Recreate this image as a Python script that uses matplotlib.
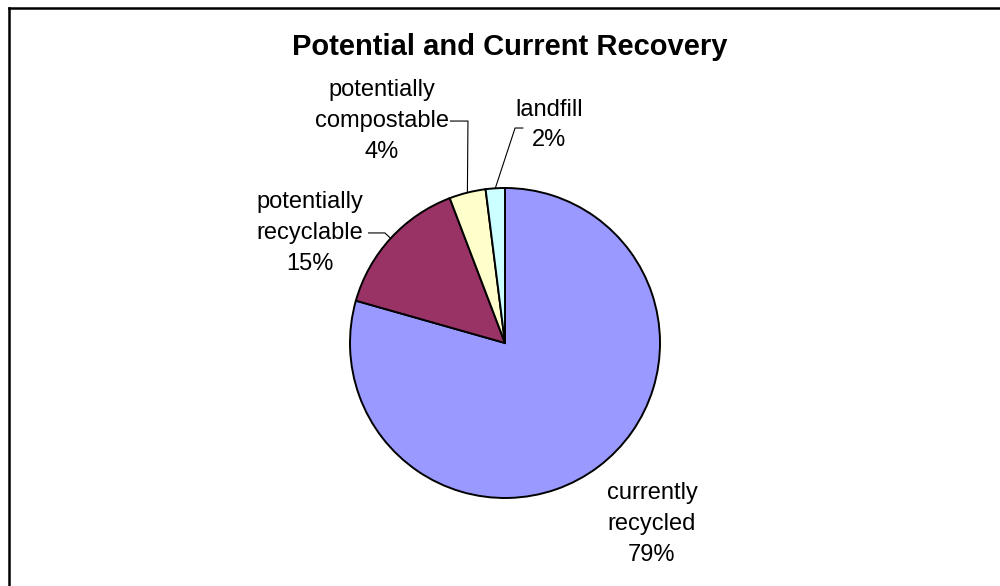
import numpy as np
import matplotlib
matplotlib.use("Agg")
import matplotlib.pyplot as plt
from matplotlib.lines import Line2D

plt.rcParams["font.family"] = ["Liberation Sans", "DejaVu Sans"]

categories = ["currently\nrecycled", "potentially\nrecyclable", "potentially\ncompostable", "landfill"]
shares = [79.4, 14.8, 3.8, 2.0]
colors = ["#9999FF", "#993366", "#FFFFCC", "#CCFFFF"]

# label layout (data units, pie radius = 1): text centre, knee of leader, text-side end of leader
label_pos = [(0.948, -1.168), (-1.258, 0.710), (-0.794, 1.432), (0.284, 1.406)]
knees = [None, (-0.775, 0.710), (-0.239, 1.432), (0.065, 1.387)]
stubs = [None, (-0.880, 0.710), (-0.352, 1.432), (0.115, 1.387)]

W, H = 1000, 586
cx, cy, r = 505, 343, 155

fig = plt.figure(figsize=(10, 5.86), dpi=100)
ax = fig.add_axes([0, 0, 1, 1])

wedges, _ = ax.pie(shares, colors=colors, startangle=90, counterclock=False,
                   radius=1, center=(0, 0),
                   wedgeprops=dict(edgecolor="black", linewidth=1.4))

ax.set_xlim(-cx / r, (W - cx) / r)
ax.set_ylim(-(H - cy) / r, cy / r)
ax.set_aspect("equal")
ax.axis("off")

for i, (w, cat, val) in enumerate(zip(wedges, categories, shares)):
    text = f"{cat}\n{val:.0f}%"
    tx, ty = label_pos[i]
    ax.text(tx, ty, text, ha="center", va="center", fontsize=17,
            linespacing=1.52)
    if knees[i] is not None:
        mid = np.deg2rad((w.theta1 + w.theta2) / 2)
        ex, ey = np.cos(mid), np.sin(mid)
        kx, ky = knees[i]
        sx, sy = stubs[i]
        ax.plot([ex, kx, sx], [ey, ky, sy], color="black", linewidth=0.8)

fig.text(0.510, 1 - 47 / H, "Potential and Current Recovery", ha="center",
         va="center", fontsize=21, fontweight="bold")

# chart frame (only left and top visible in the crop)
fig.add_artist(Line2D([8.5 / W, 8.5 / W], [-0.02, 1 - 7.5 / H],
                      transform=fig.transFigure, color="black", linewidth=1.8))
fig.add_artist(Line2D([8.5 / W, 1.02], [1 - 7.5 / H, 1 - 7.5 / H],
                      transform=fig.transFigure, color="black", linewidth=1.8))

fig.savefig("out.png", dpi=100)
